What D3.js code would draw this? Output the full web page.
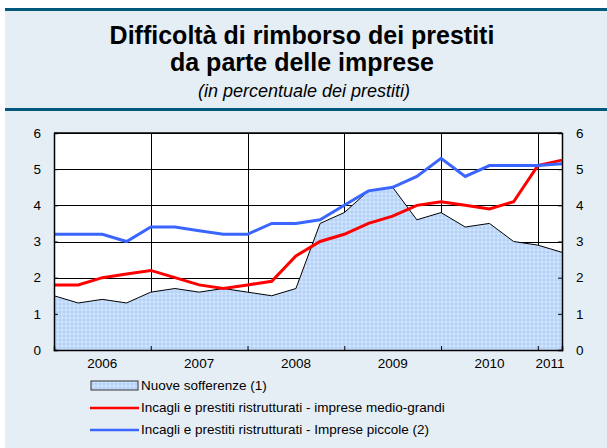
<!DOCTYPE html>
<html>
<head>
<meta charset="utf-8">
<script src="https://cdn.jsdelivr.net/npm/d3@7"></script>
<style>
  body { margin: 0; background: #fff; }
  text { font-family: "Liberation Sans", Arial, sans-serif; }
</style>
</head>
<body>
<script>
// quarterly data, Dec 2005 .. Mar 2011
var quarters = d3.range(22);
var nuoveSofferenze = [1.5, 1.3, 1.4, 1.3, 1.6, 1.7, 1.6, 1.7, 1.6, 1.5, 1.7, 3.5,
                       3.8, 4.4, 4.5, 3.6, 3.8, 3.4, 3.5, 3.0, 2.9, 2.7];
var medioGrandi = [1.8, 1.8, 2.0, 2.1, 2.2, 2.0, 1.8, 1.7, 1.8, 1.9, 2.6, 3.0,
                   3.2, 3.5, 3.7, 4.0, 4.1, 4.0, 3.9, 4.1, 5.1, 5.25];
var piccole = [3.2, 3.2, 3.2, 3.0, 3.4, 3.4, 3.3, 3.2, 3.2, 3.5, 3.5, 3.6,
               4.0, 4.4, 4.5, 4.8, 5.3, 4.8, 5.1, 5.1, 5.1, 5.15];
var yearLabels = ['2006', '2007', '2008', '2009', '2010', '2011'];
var yearPos = [2, 6, 10, 14, 18, 20.5];
var yearBounds = [4, 8, 12, 16, 20];
var yTicks = [0, 1, 2, 3, 4, 5, 6];
var legendLabels = ['Nuove sofferenze (1)',
  'Incagli e prestiti ristrutturati - imprese medio-grandi',
  'Incagli e prestiti ristrutturati - Imprese piccole (2)'];

var width = 607, height = 448;
var svg = d3.select('body').append('svg')
  .attr('width', width)
  .attr('height', height);

var defs = svg.append('defs');
var pat = defs.append('pattern')
  .attr('id', 'dots')
  .attr('width', 4).attr('height', 4)
  .attr('patternUnits', 'userSpaceOnUse');
pat.append('rect').attr('width', 4).attr('height', 4).attr('fill', '#b3d2fa');
pat.append('rect').attr('x', 1.5).attr('y', 0).attr('width', 1).attr('height', 4).attr('fill', '#cfe2fb');
pat.append('rect').attr('x', 0).attr('y', 1.5).attr('width', 4).attr('height', 1).attr('fill', '#cfe2fb');
pat.append('rect').attr('x', 1.5).attr('y', 1.5).attr('width', 1).attr('height', 1).attr('fill', '#eef5fe');

// panel
svg.append('rect').attr('x', 5).attr('y', 9).attr('width', width - 5).attr('height', height - 9)
  .attr('fill', '#e6eef5');
svg.append('rect').attr('x', 5).attr('y', 8).attr('width', width - 5).attr('height', 3).attr('fill', '#00587d');
svg.append('rect').attr('x', 5).attr('y', 108).attr('width', width - 5).attr('height', 3).attr('fill', '#00587d');

// titles
svg.append('text').attr('x', 302).attr('y', 44).attr('text-anchor', 'middle')
  .style('font-size', '25px').style('font-weight', 'bold')
  .text('Difficoltà di rimborso dei prestiti');
svg.append('text').attr('x', 302).attr('y', 71).attr('text-anchor', 'middle')
  .style('font-size', '25px').style('font-weight', 'bold')
  .text('da parte delle imprese');
svg.append('text').attr('x', 304).attr('y', 97).attr('text-anchor', 'middle')
  .style('font-size', '18px').style('font-style', 'italic')
  .text('(in percentuale dei prestiti)');

var pLeft = 54, pRight = 562, pTop = 133, pBottom = 350;
var x = d3.scaleLinear().domain([0, 21]).range([pLeft, pRight]);
var y = d3.scaleLinear().domain([0, 6]).range([pBottom, pTop]);

svg.append('rect').attr('x', pLeft).attr('y', pTop)
  .attr('width', pRight - pLeft).attr('height', pBottom - pTop).attr('fill', '#fff');

// grid
svg.append('g').selectAll('line').data(yTicks.slice(1)).enter().append('line')
  .attr('x1', pLeft).attr('x2', pRight)
  .attr('y1', function(d) { return Math.round(y(d)) + 0.5; })
  .attr('y2', function(d) { return Math.round(y(d)) + 0.5; })
  .attr('stroke', '#000').attr('stroke-width', 1);
svg.append('g').selectAll('line').data(yearBounds).enter().append('line')
  .attr('y1', pTop).attr('y2', pBottom)
  .attr('x1', function(d) { return Math.round(x(d)) + 0.5; })
  .attr('x2', function(d) { return Math.round(x(d)) + 0.5; })
  .attr('stroke', '#000').attr('stroke-width', 1);

// area
var area = d3.area()
  .x(function(d, i) { return x(quarters[i]); })
  .y0(pBottom)
  .y1(function(d) { return y(d); });
svg.append('path').datum(nuoveSofferenze)
  .attr('d', area).attr('fill', 'url(#dots)');
var line = d3.line()
  .x(function(d, i) { return x(quarters[i]); })
  .y(function(d) { return y(d); });
svg.append('path').datum(nuoveSofferenze)
  .attr('d', line).attr('fill', 'none').attr('stroke', '#000').attr('stroke-width', 1);

svg.append('path').datum(medioGrandi)
  .attr('d', line).attr('fill', 'none').attr('stroke', '#ff0000').attr('stroke-width', 3);
svg.append('path').datum(piccole)
  .attr('d', line).attr('fill', 'none').attr('stroke', '#3a66ff').attr('stroke-width', 3);

// axes
var axL = svg.append('g').attr('transform', 'translate(' + pLeft + ',0)')
  .call(d3.axisLeft(y).tickValues(yTicks).tickFormat(d3.format('d')).tickSize(-4).tickPadding(13));
var axR = svg.append('g').attr('transform', 'translate(' + pRight + ',0)')
  .call(d3.axisRight(y).tickValues(yTicks).tickFormat(d3.format('d')).tickSize(-4).tickPadding(14));
var axB = svg.append('g').attr('transform', 'translate(0,' + pBottom + ')')
  .call(d3.axisBottom(x).tickValues(yearBounds).tickSize(-4).tickFormat(''));
[axL, axR, axB].forEach(function(a) {
  a.selectAll('.domain').attr('stroke', '#000').attr('stroke-width', 1.5);
  a.selectAll('.tick line').attr('stroke', '#000');
  a.selectAll('text').style('font-size', '13.5px')
    .style('font-family', '"Liberation Sans", Arial, sans-serif').attr('fill', '#000');
});
svg.append('line').attr('x1', pLeft).attr('x2', pRight).attr('y1', pTop).attr('y2', pTop)
  .attr('stroke', '#000').attr('stroke-width', 1.5);

svg.append('g').selectAll('text').data(yearLabels).enter().append('text')
  .attr('x', function(d, i) { return x(yearPos[i]); })
  .attr('y', 368).attr('text-anchor', 'middle')
  .style('font-size', '13.5px')
  .text(function(d) { return d; });

// legend
var lg = svg.append('g');
lg.append('rect').attr('x', 91).attr('y', 381).attr('width', 47).attr('height', 9)
  .attr('fill', 'url(#dots)').attr('stroke', '#333').attr('stroke-width', 1);
lg.append('line').attr('x1', 90).attr('x2', 139).attr('y1', 408).attr('y2', 408)
  .attr('stroke', '#ff0000').attr('stroke-width', 2.5);
lg.append('line').attr('x1', 90).attr('x2', 139).attr('y1', 430).attr('y2', 430)
  .attr('stroke', '#3a66ff').attr('stroke-width', 2.5);
lg.selectAll('text').data(legendLabels).enter().append('text')
  .attr('x', 141).attr('y', function(d, i) { return 390 + i * 22; })
  .style('font-size', '13.5px')
  .text(function(d) { return d; });
</script>
</body>
</html>
